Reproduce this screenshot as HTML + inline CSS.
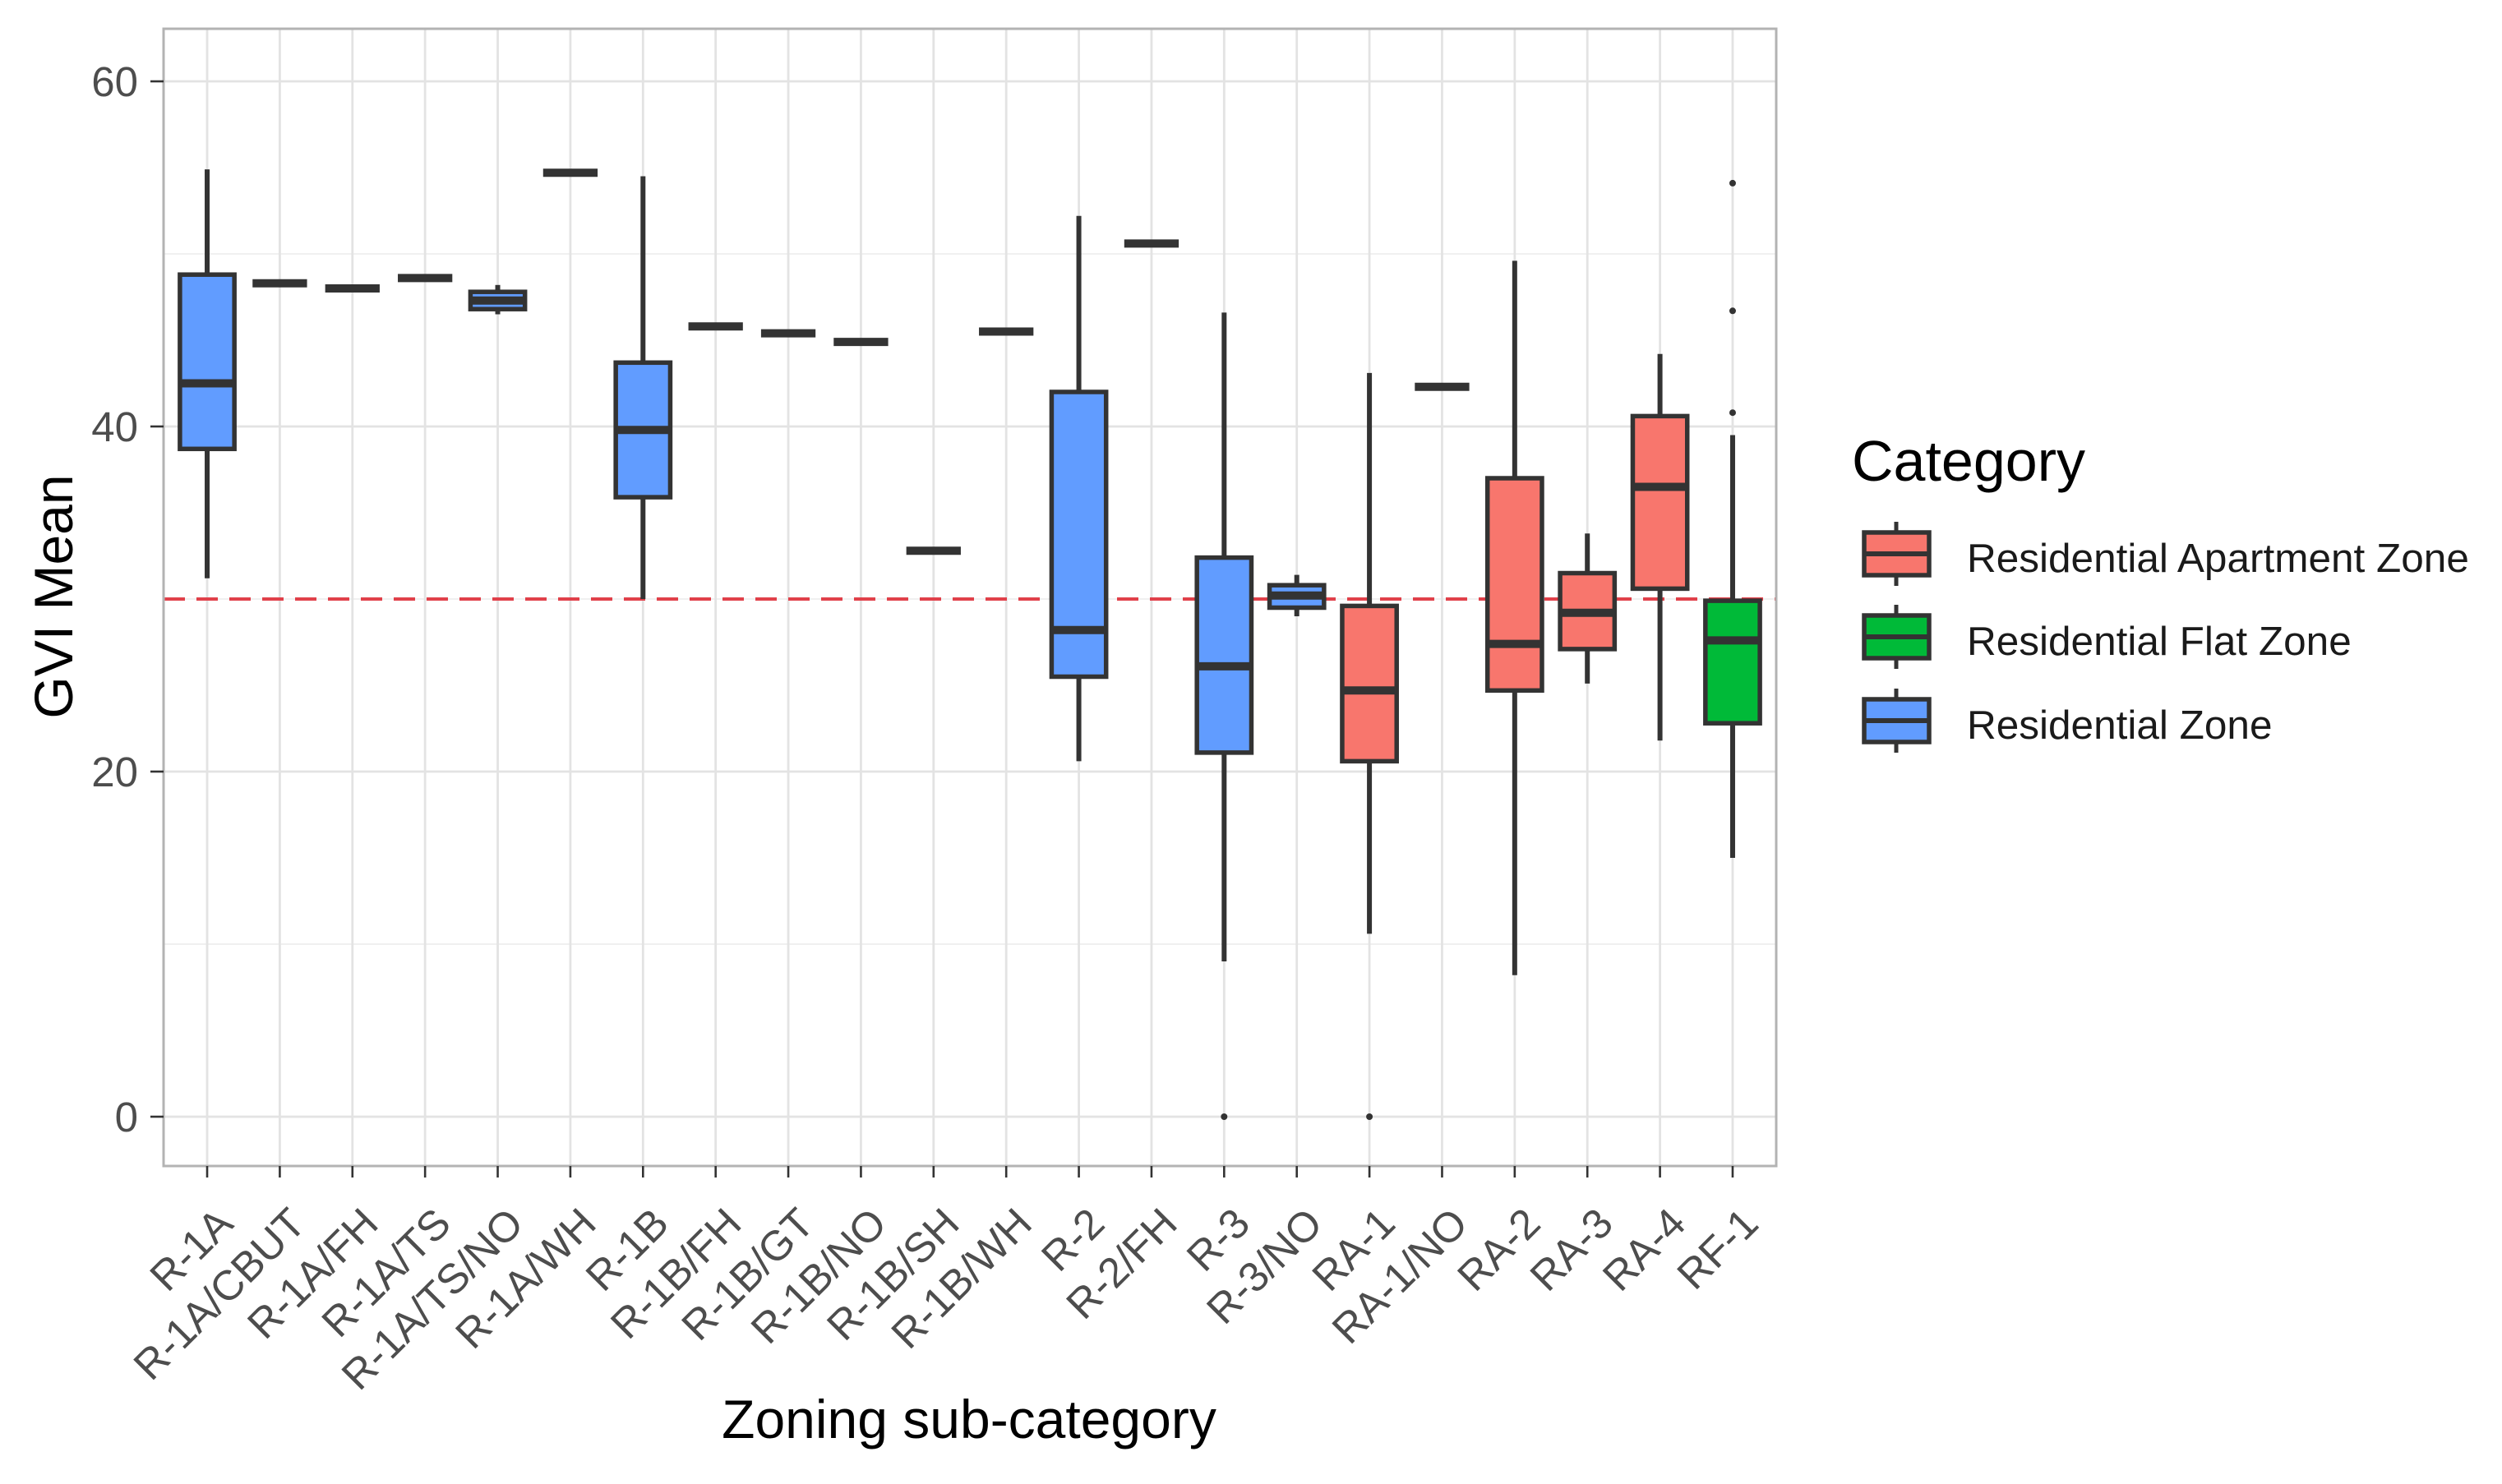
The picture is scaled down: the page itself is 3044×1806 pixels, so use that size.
<!DOCTYPE html>
<html><head><meta charset="utf-8"><style>
html,body{margin:0;padding:0;background:#fff;}
svg{display:block;font-family:"Liberation Sans",Arial,sans-serif;}
</style></head><body>
<svg id="chart" width="3044" height="1806" viewBox="0 0 3044 1806" xmlns="http://www.w3.org/2000/svg">
<rect width="3044" height="1806" fill="#fff"/>
<g id="grid"></g>
<g id="marks"></g>
<rect x="199" y="35" width="1962" height="1384" fill="none" stroke="#b3b3b3" stroke-width="3"/>
<g id="axes"></g>
<text x="1179" y="1750" font-size="66" text-anchor="middle" fill="#000">Zoning sub-category</text>
<text transform="translate(88,726) rotate(-90)" font-size="66" text-anchor="middle" fill="#000">GVI Mean</text>
<g id="legend">
<text x="2253" y="585" font-size="70" fill="#000">Category</text>
</g>
</svg>
<script>
const categories = ["R-1A","R-1A/CBUT","R-1A/FH","R-1A/TS","R-1A/TS/NO","R-1A/WH","R-1B","R-1B/FH","R-1B/GT","R-1B/NO","R-1B/SH","R-1B/WH","R-2","R-2/FH","R-3","R-3/NO","RA-1","RA-1/NO","RA-2","RA-3","RA-4","RF-1"];
const groups = ["RZ","RZ","RZ","RZ","RZ","RZ","RZ","RZ","RZ","RZ","RZ","RZ","RZ","RZ","RZ","RZ","RAZ","RAZ","RAZ","RAZ","RAZ","RFZ"];
const whiskerLow = [31.2,48.3,48.0,48.6,46.5,54.7,30.0,45.8,45.4,44.9,32.8,45.5,20.6,50.6,9.0,29.0,10.6,42.3,8.2,25.1,21.8,15.0];
const q1 =         [38.7,48.3,48.0,48.6,46.8,54.7,35.9,45.8,45.4,44.9,32.8,45.5,25.5,50.6,21.1,29.5,20.6,42.3,24.7,27.1,30.6,22.8];
const medians =    [42.5,48.3,48.0,48.6,47.3,54.7,39.8,45.8,45.4,44.9,32.8,45.5,28.2,50.6,26.1,30.2,24.7,42.3,27.4,29.2,36.5,27.6];
const q3 =         [48.8,48.3,48.0,48.6,47.8,54.7,43.7,45.8,45.4,44.9,32.8,45.5,42.0,50.6,32.4,30.8,29.6,42.3,37.0,31.5,40.6,29.9];
const whiskerHigh =[54.9,48.3,48.0,48.6,48.2,54.7,54.5,45.8,45.4,44.9,32.8,45.5,52.2,50.6,46.6,31.4,43.1,42.3,49.6,33.8,44.2,39.5];
const outlierCats = ["R-3","RA-1","RF-1","RF-1","RF-1"];
const outlierVals = [0,0,54.1,46.7,40.8];
const yTicks = [0,20,40,60];
const yMinor = [10,30,50];
const refLine = 30;
const legendNames = ["Residential Apartment Zone","Residential Flat Zone","Residential Zone"];
const legendKeys = ["RAZ","RFZ","RZ"];

const colors = {RAZ:"#F8766D", RFZ:"#00BA38", RZ:"#619CFF"};
const NS = "http://www.w3.org/2000/svg";
const pL = 199, pR = 2161, pT = 35, pB = 1419;
const step = (pR-pL)/(categories.length+0.2);
function xs(i){ return pL + step*0.6 + step*i; }
function ys(v){ return 1359 - v*21; }
function mk(tag, attrs, parent){ const e = document.createElementNS(NS, tag); for (const k in attrs) e.setAttribute(k, attrs[k]); parent.appendChild(e); return e; }
const grid = document.getElementById('grid');
const marks = document.getElementById('marks');
const axes = document.getElementById('axes');
const legend = document.getElementById('legend');
mk('rect',{x:pL,y:pT,width:pR-pL,height:pB-pT,fill:'#fff'},grid);
yMinor.forEach(v=>{ const l = mk('line',{x1:pL,x2:pR,y1:ys(v),y2:ys(v),stroke:'#eeeeee','stroke-width':1.8},grid);

 });
yTicks.forEach(v=>{ const l = mk('line',{x1:pL,x2:pR,y1:ys(v),y2:ys(v),stroke:'#e3e3e3','stroke-width':2.8},grid);


const t = mk('line',{x1:183,x2:pL,y1:ys(v),y2:ys(v),stroke:'#333','stroke-width':2.6},axes);


const tx = mk('text',{x:168,y:ys(v)+18,'font-size':51,'text-anchor':'end',fill:'#4d4d4d'},axes);
tx.textContent = v;

 });
categories.forEach((c,i)=>{ const x = xs(i);
const l = mk('line',{x1:x,x2:x,y1:pT,y2:pB,stroke:'#e3e3e3','stroke-width':2.8},grid);


const t = mk('line',{x1:x,x2:x,y1:pB,y2:1433,stroke:'#333','stroke-width':2.6},axes);


const tx = mk('text',{transform:`translate(${x+34},1492) rotate(-45)`,'font-size':51,'text-anchor':'end',fill:'#4d4d4d'},axes);
tx.textContent = c;

 });
const ref = mk('line',{x1:pL,x2:pR,y1:ys(refLine),y2:ys(refLine),stroke:'#e0404a','stroke-width':4,'stroke-dasharray':'26 14'},marks);


const bw = step*0.75;
categories.forEach((c,i)=>{ const x = xs(i);
const g = mk('g',{},marks);


mk('line',{x1:x,x2:x,y1:ys(whiskerHigh[i]),y2:ys(q3[i]),stroke:'#333','stroke-width':6},g);
mk('line',{x1:x,x2:x,y1:ys(q1[i]),y2:ys(whiskerLow[i]),stroke:'#333','stroke-width':6},g);
const h = ys(q1[i])-ys(q3[i]);
if (h > 1) mk('rect',{x:x-bw/2,y:ys(q3[i]),width:bw,height:h,fill:colors[groups[i]],stroke:'#333','stroke-width':5.5},g);
mk('line',{x1:x-bw/2,x2:x+bw/2,y1:ys(medians[i]),y2:ys(medians[i]),stroke:'#333','stroke-width':10},g); });
outlierVals.forEach((v,k)=>{ const i = categories.indexOf(outlierCats[k]);
const d = mk('circle',{cx:xs(i),cy:ys(v),r:4,fill:'#333'},marks);

 });
const keyY = [648,749,851];
legendNames.forEach((n,k)=>{ const y0 = keyY[k];
const g = mk('g',{},legend);


mk('line',{x1:2307,x2:2307,y1:y0-13,y2:y0+65,stroke:'#333','stroke-width':5},g);
mk('rect',{x:2268,y:y0,width:79,height:52,fill:colors[legendKeys[k]],stroke:'#333','stroke-width':5.5},g);
mk('line',{x1:2268,x2:2347,y1:y0+26,y2:y0+26,stroke:'#333','stroke-width':6},g);
const t = mk('text',{x:2393,y:y0+48,'font-size':49.5,fill:'#1a1a1a'},g);
t.textContent = n; });
</script>
</body></html>
